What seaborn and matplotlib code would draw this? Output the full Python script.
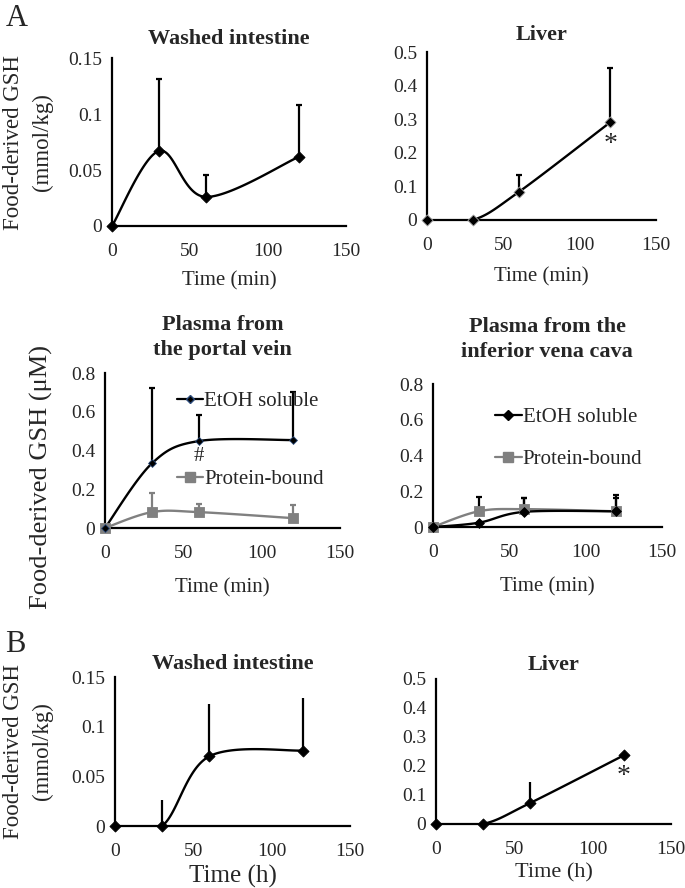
import numpy as np
import matplotlib
matplotlib.use("Agg")
import matplotlib.pyplot as plt
from matplotlib.lines import Line2D
import seaborn as sns

sns.set_style("white")
plt.rcParams['font.family'] = ['Liberation Serif', 'DejaVu Serif']

# ---- data ----
time = [0, 30, 60, 120]

# A: washed intestine (mmol/kg)
a_int_mean = [0, 0.067, 0.026, 0.062]
a_int_err = [0, 0.064, 0.020, 0.046]

# A: liver (mmol/kg)
a_liv_mean = [0, 0, 0.083, 0.291]
a_liv_err = [0, 0, 0.051, 0.163]

# A: plasma portal vein (uM)
pv_etoh_mean = [0, 0.334, 0.449, 0.454]
pv_etoh_err = [0, 0.389, 0.133, 0.248]
pv_prot_mean = [0, 0.082, 0.082, 0.051]
pv_prot_err = [0, 0.101, 0.043, 0.069]

# A: plasma inferior vena cava (uM)
vc_etoh_mean = [0, 0.024, 0.085, 0.088]
vc_etoh_err = [0, 0, 0.075, 0.075]
vc_prot_mean = [0, 0.088, 0.100, 0.088]
vc_prot_err = [0, 0.081, 0.065, 0.092]

# B: washed intestine (mmol/kg)
b_int_mean = [0, 0, 0.070, 0.076]
b_int_err = [0, 0.026, 0.053, 0.053]

# B: liver (mmol/kg)
b_liv_mean = [0, 0, 0.072, 0.237]
b_liv_err = [0, 0, 0.072, 0]

GRAY = "#808080"


def smooth_curve(x, y, sx, sy, n=40):
    # Excel-like smoothed line (Catmull-Rom Bezier in screen space)
    p = np.column_stack([np.asarray(x, float) * sx, np.asarray(y, float) * sy])
    ext = np.vstack([p[0], p, p[-1]])
    out = []
    t = np.linspace(0, 1, n)[:, None]
    for i in range(len(p) - 1):
        p0, p3 = ext[i + 1], ext[i + 2]
        c1 = p0 + (ext[i + 2] - ext[i]) / 6
        c2 = p3 - (ext[i + 3] - ext[i + 1]) / 6
        seg = (1 - t) ** 3 * p0 + 3 * (1 - t) ** 2 * t * c1 + 3 * (1 - t) * t ** 2 * c2 + t ** 3 * p3
        out.append(seg)
    out = np.vstack(out)
    return out[:, 0] / sx, out[:, 1] / sy


def draw_series(ax, mean, err, ymax, color, marker, ms, mec=None, ecolor=None, cap=2.5):
    w, h = ax.get_position().width, ax.get_position().height
    xs, ys = smooth_curve(time, mean, w / 150, h / ymax * 1.3)
    ax.plot(xs, ys, color=color, lw=1.7, zorder=3)
    ax.errorbar(time, mean, yerr=[np.zeros(len(err)), err], fmt='none',
                ecolor=ecolor or color, elinewidth=1.6,
                capsize=cap, capthick=1.6, zorder=2, clip_on=False)
    sns.scatterplot(x=time, y=mean, ax=ax, marker=marker, s=ms, color=color,
                    edgecolor=mec if mec else color, linewidth=0.6, zorder=4,
                    clip_on=False, legend=False)


def style_axes(ax, ymax, ystep):
    ax.set_xlim(0, 150)
    ax.set_ylim(0, ymax)
    ax.set_xticks([0, 50, 100, 150])
    yt = np.round(np.arange(0, ymax + ystep / 2, ystep), 3)
    ax.set_yticks(yt)
    ax.set_yticklabels(['0' if v == 0 else '%g' % v for v in yt])
    ax.set_yticks([ymax], minor=True)
    for s in ['top', 'right']:
        ax.spines[s].set_visible(False)
    for s in ['left', 'bottom']:
        ax.spines[s].set_linewidth(1.6)
        ax.spines[s].set_color('black')
    ax.tick_params(axis='x', direction='in', length=5, width=1.6, labelsize=14, pad=12)
    ax.tick_params(axis='y', which='major', length=0, labelsize=14, pad=7)
    ax.tick_params(axis='y', which='minor', direction='in', length=5, width=1.6)
    ax.grid(False)


fig = plt.figure(figsize=(6.85, 8.88), dpi=100)

ax1 = fig.add_axes([0.1635, 0.7455, 0.3416, 0.189])
ax2 = fig.add_axes([0.6234, 0.7523, 0.3343, 0.189])
ax3 = fig.add_axes([0.1533, 0.4054, 0.343, 0.1745])
ax4 = fig.add_axes([0.632, 0.4065, 0.334, 0.161])
ax5 = fig.add_axes([0.1679, 0.0698, 0.343, 0.1678])
ax6 = fig.add_axes([0.6365, 0.0721, 0.343, 0.1633])

# A1
style_axes(ax1, 0.15, 0.05)
draw_series(ax1, a_int_mean, a_int_err, 0.15, 'black', 'D', 32)
ax1.set_title('Washed intestine', fontsize=16, fontweight='bold', pad=10)
ax1.set_xlabel('Time (min)', fontsize=15, labelpad=8)

# A2
style_axes(ax2, 0.5, 0.1)
draw_series(ax2, a_liv_mean, a_liv_err, 0.5, 'black', 'D', 32, mec='#aaaaaa')
ax2.set_title('Liver', fontsize=16, fontweight='bold', pad=8.5)
ax2.set_xlabel('Time (min)', fontsize=15, labelpad=10)
ax2.text(time[3], a_liv_mean[3] - 0.03, '*', ha='center', va='top', fontsize=20)

# A3
style_axes(ax3, 0.8, 0.2)
draw_series(ax3, pv_prot_mean, pv_prot_err, 0.8, GRAY, 's', 60)
draw_series(ax3, pv_etoh_mean, pv_etoh_err, 0.8, 'black', 'D', 16, mec='#2b4a7a')
ax3.set_title('Plasma from\nthe portal vein', fontsize=16, fontweight='bold', pad=13, linespacing=1.35)
ax3.set_xlabel('Time (min)', fontsize=15, labelpad=12)
ax3.text(time[2], pv_etoh_mean[2] - 0.03, '#', ha='center', va='top', fontsize=15)
h_etoh3 = Line2D([], [], color='black', lw=1.6, marker='D', ms=4, mec='#2b4a7a')
h_prot = Line2D([], [], color=GRAY, lw=1.6, marker='s', ms=7)
ax3.legend([h_etoh3, h_prot], ['EtOH soluble', 'Protein-bound'], loc='upper left',
           bbox_to_anchor=(0.306, 0.879), frameon=False, fontsize=15, handlelength=1.25,
           handletextpad=0.05, labelspacing=2.8, borderaxespad=0, borderpad=0)

# A4
style_axes(ax4, 0.8, 0.2)
draw_series(ax4, vc_prot_mean, vc_prot_err, 0.8, GRAY, 's', 60, ecolor='black')
draw_series(ax4, vc_etoh_mean, vc_etoh_err, 0.8, 'black', 'D', 25)
ax4.set_title('Plasma from the\ninferior vena cava', fontsize=16, fontweight='bold', pad=19.5, linespacing=1.32)
ax4.set_xlabel('Time (min)', fontsize=15, labelpad=12)
h_etoh4 = Line2D([], [], color='black', lw=1.6, marker='D', ms=5)
ax4.legend([h_etoh4, h_prot], ['EtOH soluble', 'Protein-bound'], loc='upper left',
           bbox_to_anchor=(0.27, 0.835), frameon=False, fontsize=15, handlelength=1.3,
           handletextpad=0.05, labelspacing=1.06, borderaxespad=0, borderpad=0)

# B1
style_axes(ax5, 0.15, 0.05)
draw_series(ax5, b_int_mean, b_int_err, 0.15, 'black', 'D', 32, cap=0)
ax5.set_title('Washed intestine', fontsize=16, fontweight='bold', pad=5.8)
ax5.set_xlabel('Time (h)', fontsize=18, labelpad=4)

# B2
style_axes(ax6, 0.5, 0.1)
draw_series(ax6, b_liv_mean, b_liv_err, 0.5, 'black', 'D', 32, cap=0)
ax6.set_title('Liver', fontsize=16, fontweight='bold', pad=6.5)
ax6.set_xlabel('Time (h)', fontsize=16, labelpad=4)
ax6.text(time[3], b_liv_mean[3] - 0.03, '*', ha='center', va='top', fontsize=20)

# y labels and panel letters
for yc in (0.84, 0.154):
    fig.text(0.0204, yc, 'Food-derived GSH', rotation=90, ha='center', va='center', fontsize=16.5)
    fig.text(0.0613, yc, '(mmol/kg)', rotation=90, ha='center', va='center', fontsize=16.5)
fig.text(0.06, 0.463, 'Food-derived GSH (μM)', rotation=90, ha='center', va='center', fontsize=19)
fig.text(0.008, 0.995, 'A', ha='left', va='top', fontsize=22)
fig.text(0.008, 0.29, 'B', ha='left', va='top', fontsize=22)

fig.savefig('out.png', dpi=100)
